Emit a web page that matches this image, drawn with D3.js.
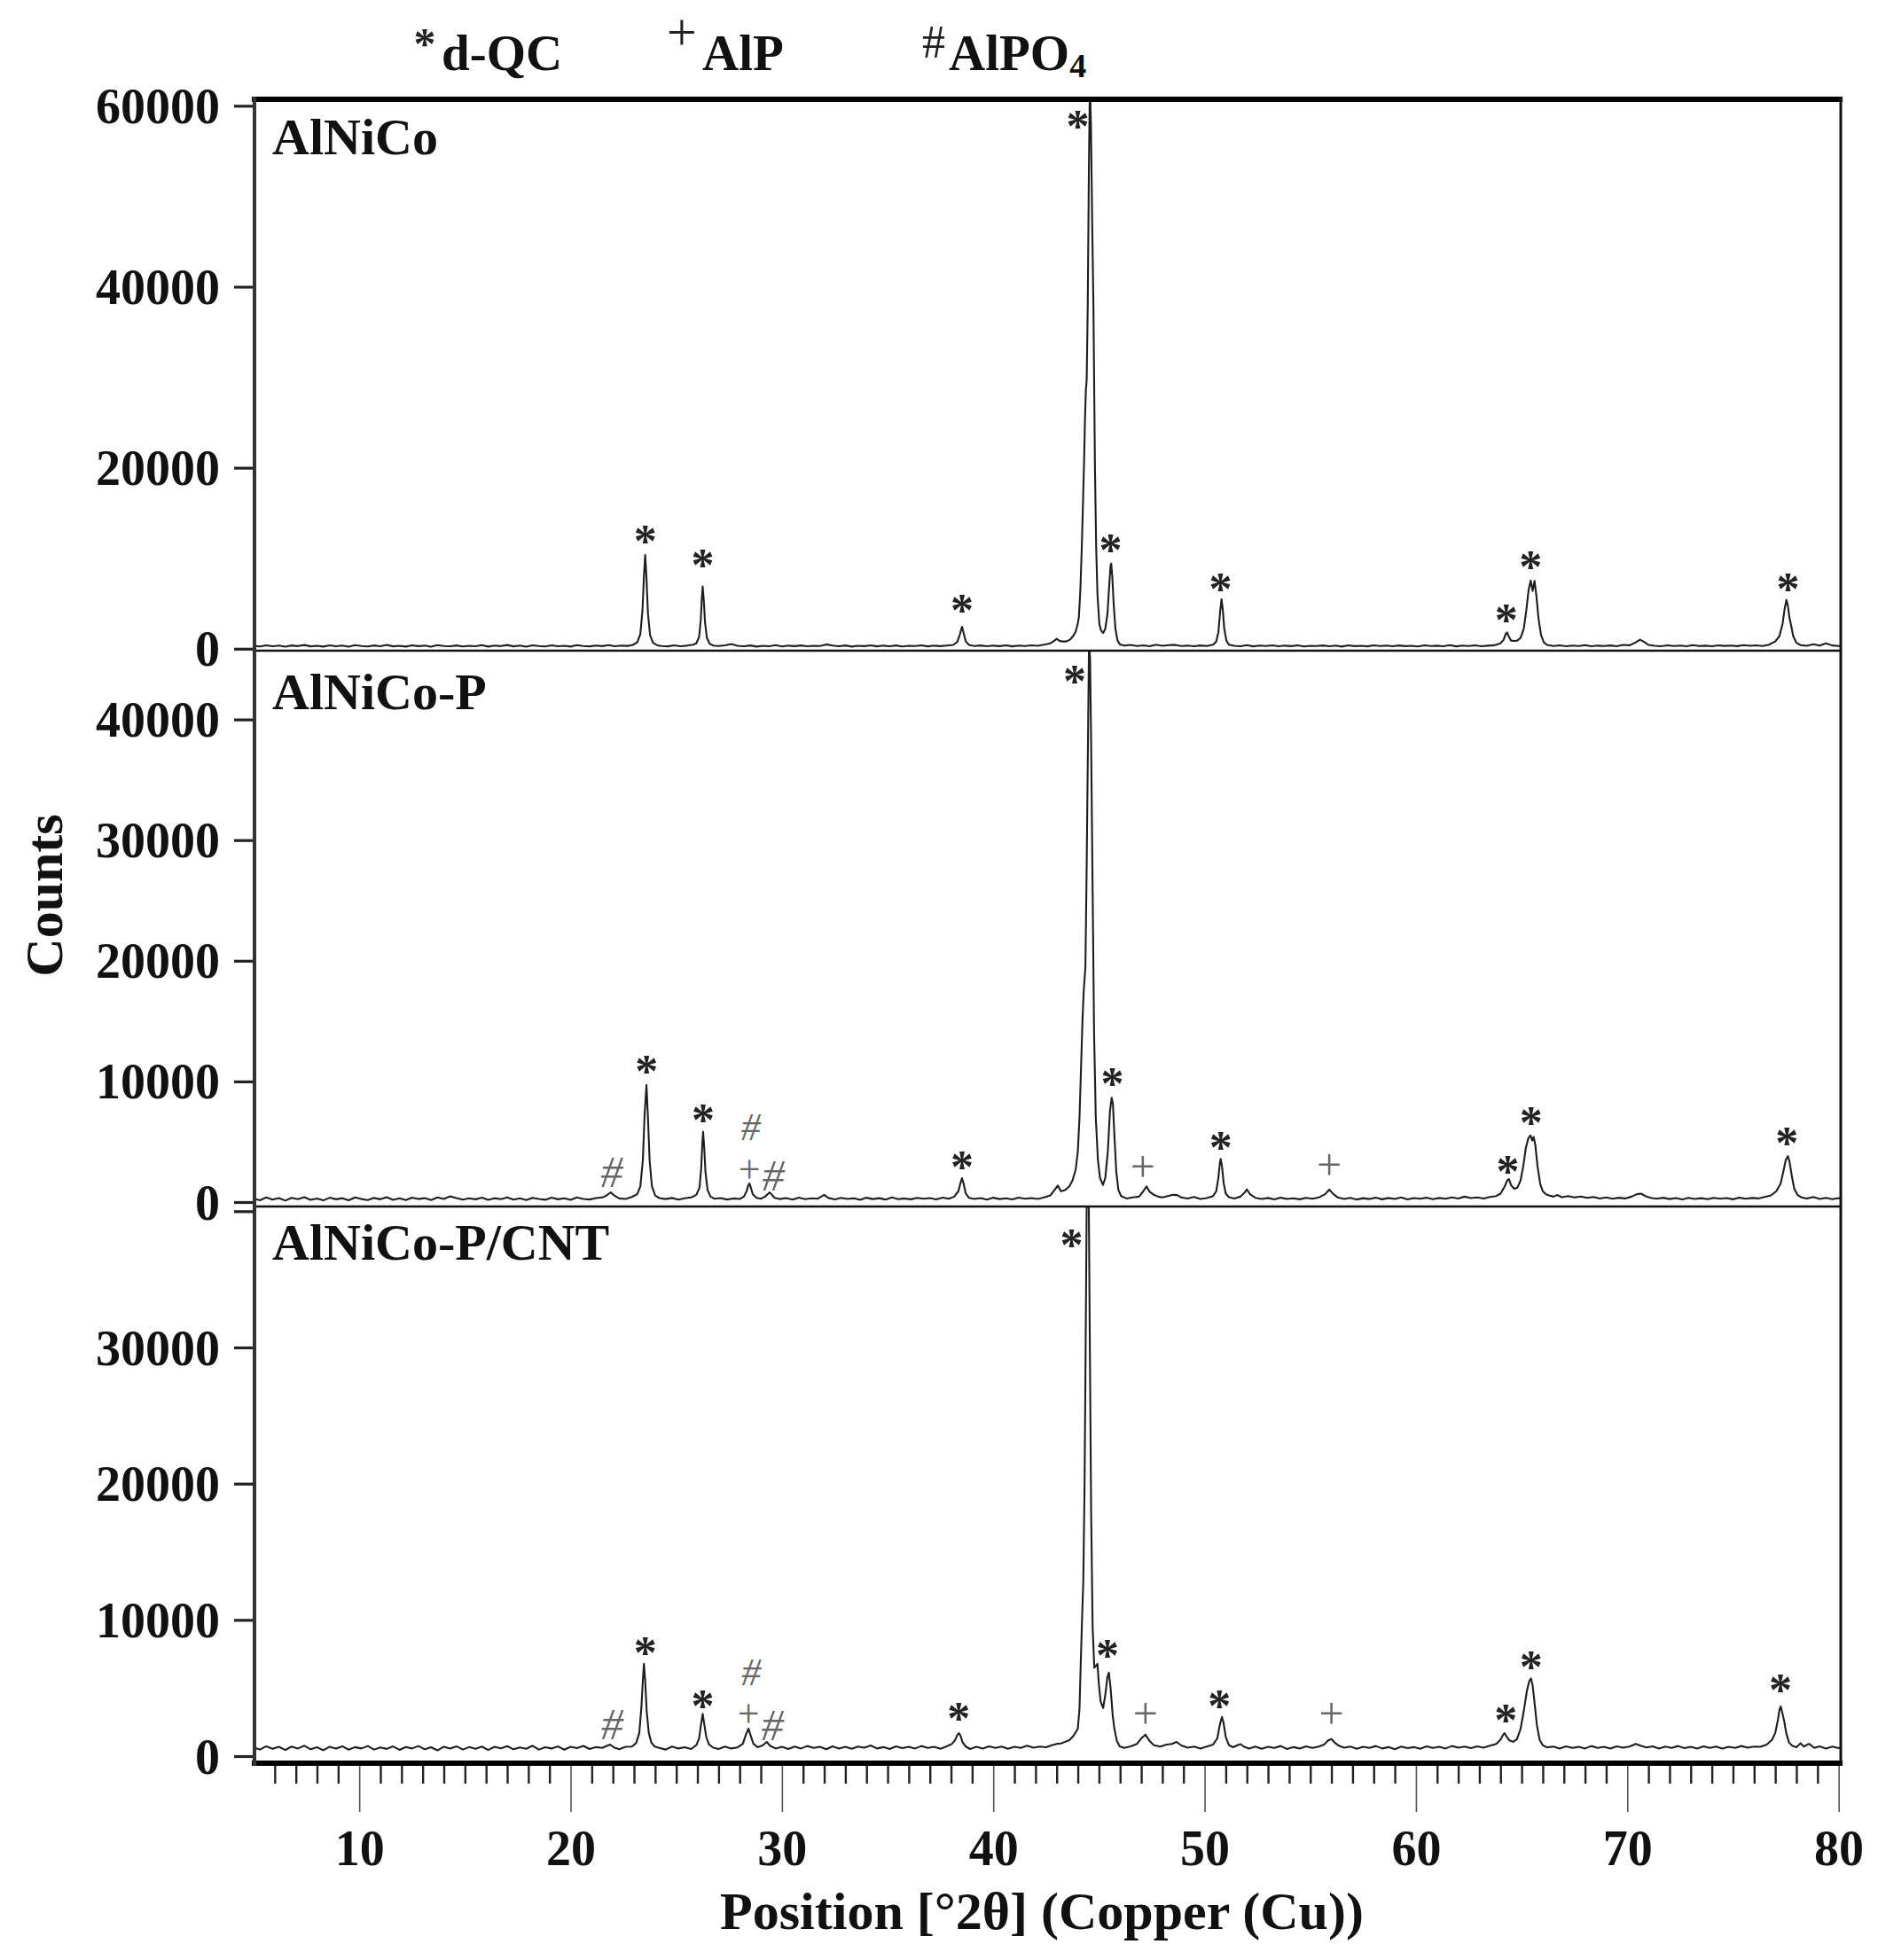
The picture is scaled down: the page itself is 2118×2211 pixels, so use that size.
<!DOCTYPE html>
<html><head><meta charset="utf-8">
<script src="https://cdn.jsdelivr.net/npm/d3@7"></script>
<style>body{margin:0;background:#fff}svg{display:block}</style>
</head><body>
<svg id="chart" width="2118" height="2211"></svg>
<script>
// ---------------- DATA ----------------
const panelNames = ["AlNiCo", "AlNiCo-P", "AlNiCo-P/CNT"];

// [2theta, counts]
const alnico = [
[5.0,320],[5.3,250],[5.6,380],[5.9,270],[6.2,340],[6.5,220],[6.8,360],[7.1,290],[7.4,410],[7.7,260],[8.0,330],[8.3,240],[8.6,370],[8.9,280],[9.2,350],[9.5,230],[9.8,390],[10.1,300],[10.4,250],[10.7,360],[11.0,280],[11.3,420],[11.6,260],[11.9,330],[12.2,240],[12.5,380],[12.8,290],[13.1,350],[13.4,220],[13.7,400],[14.0,300],[14.3,270],[14.6,360],[14.9,250],[15.2,330],[15.5,280],[15.8,390],[16.1,240],[16.4,350],[16.7,290],[17.0,410],[17.3,260],[17.6,340],[17.9,230],[18.2,370],[18.5,300],[18.8,250],[19.1,380],[19.4,280],[19.7,330],[20.0,240],[20.3,390],[20.6,300],[20.9,260],[21.2,350],[21.5,290],[21.8,400],[22.1,270],[22.4,340],[22.7,310],
[22.95,420],[23.15,700],[23.3,1600],[23.4,4200],[23.47,8000],[23.53,10370],[23.59,7800],[23.66,3900],[23.76,1500],[23.9,650],[24.1,380],
[24.3,300],[24.6,260],[24.9,370],[25.2,280],[25.5,340],[25.8,450],
[25.95,600],[26.08,1300],[26.16,3200],[26.21,5600],[26.25,6870],[26.3,5400],[26.36,2900],[26.45,1200],[26.58,550],[26.75,350],
[27.0,300],[27.3,380],[27.6,520],[27.9,320],[28.2,270],[28.5,360],[28.8,240],[29.1,330],[29.4,280],[29.7,390],[30.0,250],[30.3,340],[30.6,290],[30.9,360],[31.2,270],[31.5,330],[31.8,300],[32.1,480],[32.4,350],[32.7,270],[33.0,360],[33.3,240],[33.6,330],[33.9,290],[34.2,380],[34.5,260],[34.8,340],[35.1,280],[35.4,360],[35.7,250],[36.0,330],[36.3,300],[36.6,370],[36.9,260],[37.2,340],[37.5,290],[37.8,350],[38.1,420],
[38.3,750],[38.42,1600],[38.52,2430],[38.6,1700],[38.7,800],[38.85,420],
[39.1,300],[39.4,360],[39.7,270],[40.0,340],[40.3,290],[40.6,380],[40.9,260],[41.2,350],[41.5,300],[41.8,370],[42.1,330],[42.4,450],[42.7,600],[42.9,900],[43.0,1100],[43.15,850],[43.3,800],
[43.45,800],[43.63,1000],[43.78,1400],[43.9,1900],[44.0,2800],[44.05,3500],[44.12,6500],[44.19,11350],[44.25,16500],[44.3,21000],[44.34,25500],[44.38,28500],[44.42,29800],[44.47,38000],[44.52,52000],[44.57,62500],[44.62,58000],[44.68,47000],[44.74,37600],[44.81,20170],[44.87,11000],[44.93,6000],[45.02,2700],[45.1,2000],[45.2,1750],[45.3,2200],[45.4,3800],[45.48,6800],[45.55,9200],[45.58,9400],[45.63,8000],[45.7,4800],[45.78,2200],[45.88,900],[45.99,480],
[46.2,350],[46.5,420],[46.8,300],[47.1,380],[47.4,280],[47.7,450],[48.0,320],[48.3,390],[48.6,430],[48.9,300],[49.2,340],[49.5,270],[49.8,360],[50.1,300],[50.4,450],
[50.55,800],[50.65,1800],[50.73,4000],[50.8,5470],[50.86,4300],[50.93,2200],[51.03,900],[51.15,450],
[51.4,330],[51.7,280],[52.0,390],[52.3,260],[52.6,350],[52.9,300],[53.2,370],[53.5,270],[53.8,340],[54.1,290],[54.4,380],[54.7,250],[55.0,330],[55.3,300],[55.6,360],[55.9,280],[56.2,350],[56.5,240],[56.8,370],[57.1,290],[57.4,330],[57.7,260],[58.0,380],[58.3,300],[58.6,340],[58.9,270],[59.2,360],[59.5,290],[59.8,330],[60.1,250],[60.4,370],[60.7,300],[61.0,340],[61.3,280],[61.6,390],[61.9,260],[62.2,350],[62.5,300],[62.8,370],[63.1,280],[63.4,340],[63.7,380],[64.0,600],
[64.15,1000],[64.25,1650],[64.31,1810],[64.38,1400],[64.5,900],[64.65,860],[64.8,900],[64.95,1200],[65.1,2200],[65.22,4200],[65.33,6500],[65.43,7530],[65.52,6380],[65.61,7500],[65.7,5800],[65.8,3300],[65.92,1500],[66.05,700],[66.2,420],
[66.5,300],[66.8,370],[67.1,280],[67.4,350],[67.7,300],[68.0,390],[68.3,270],[68.6,340],[68.9,300],[69.2,360],[69.5,280],[69.8,420],[70.1,380],[70.4,700],[70.6,1000],[70.8,750],[71.0,420],[71.3,330],[71.6,280],[71.9,370],[72.2,300],[72.5,350],[72.8,270],[73.1,390],[73.4,300],[73.7,340],[74.0,280],[74.3,380],[74.6,310],[74.9,350],[75.2,290],[75.5,400],[75.8,330],[76.1,370],[76.4,300],[76.7,450],[77.0,800],
[77.2,1400],[77.35,2800],[77.45,4500],[77.53,5400],[77.6,4700],[77.68,3300],[77.75,2600],[77.85,1400],[78.0,650],[78.2,400],
[78.5,320],[78.8,500],[79.1,340],[79.4,600],[79.7,360],[80.0,300],[80.1,330]
];

const alnicoP = [
[5.0,300],[5.3,150],[5.6,380],[5.9,200],[6.2,330],[6.5,120],[6.8,350],[7.1,240],[7.4,410],[7.7,180],[8.0,300],[8.3,140],[8.6,360],[8.9,230],[9.2,320],[9.5,150],[9.8,390],[10.1,250],[10.4,170],[10.7,340],[11.0,230],[11.3,400],[11.6,190],[11.9,310],[12.2,160],[12.5,370],[12.8,250],[13.1,330],[13.4,170],[13.7,380],[14.0,260],[14.3,480],[14.6,330],[14.9,200],[15.2,310],[15.5,230],[15.8,370],[16.1,180],[16.4,320],[16.7,240],[17.0,390],[17.3,200],[17.6,310],[17.9,170],[18.2,350],[18.5,260],[18.8,190],[19.1,370],[19.4,230],[19.7,310],[20.0,180],[20.3,380],[20.6,260],[20.9,210],[21.2,330],[21.5,380],[21.7,550],[21.9,800],[22.1,500],[22.3,300],[22.6,260],[22.9,420],
[23.15,650],[23.3,1300],[23.42,3500],[23.5,7200],[23.59,9690],[23.66,7000],[23.74,3400],[23.85,1300],[24.0,550],[24.2,330],
[24.5,250],[24.8,340],[25.1,200],[25.4,310],[25.7,380],[25.95,600],
[26.1,1200],[26.18,2800],[26.23,4800],[26.27,5820],[26.32,4600],[26.38,2500],[26.48,1000],[26.62,450],[26.8,280],
[27.1,330],[27.4,210],[27.7,300],[28.0,260],[28.2,450],
[28.33,900],[28.4,1350],[28.46,1540],[28.53,1200],[28.62,650],[28.8,350],[29.0,280],[29.2,450],[29.35,700],[29.42,800],[29.5,650],[29.65,350],[29.9,250],
[30.2,330],[30.5,200],[30.8,360],[31.1,240],[31.4,310],[31.7,280],[32.0,590],[32.2,340],[32.5,220],[32.8,350],[33.1,260],[33.4,310],[33.7,190],[34.0,360],[34.3,250],[34.6,320],[34.9,210],[35.2,380],[35.5,240],[35.8,300],[36.1,230],[36.4,350],[36.7,270],[37.0,330],[37.3,220],[37.6,370],[37.9,280],[38.15,450],
[38.35,900],[38.45,1600],[38.52,1980],[38.6,1500],[38.7,700],[38.85,350],
[39.1,260],[39.4,330],[39.7,200],[40.0,360],[40.3,250],[40.6,310],[40.9,220],[41.2,370],[41.5,280],[41.8,330],[42.1,260],[42.4,380],[42.7,550],[42.9,1000],[43.05,1370],[43.2,900],[43.4,1000],
[43.6,1300],[43.75,1800],[43.9,2700],[44.0,4200],[44.08,7000],[44.15,11000],[44.22,15000],[44.28,17500],[44.32,18500],[44.36,19500],[44.42,28000],[44.48,38000],[44.53,46500],[44.58,45000],[44.63,38000],[44.7,26000],[44.77,14000],[44.85,7000],[44.95,3500],[45.05,2000],[45.19,1420],[45.3,2000],[45.42,4200],[45.52,7500],[45.6,8640],[45.66,8200],[45.74,5200],[45.82,2500],[45.92,1000],[46.05,500],
[46.3,300],[46.6,380],[46.9,450],[47.1,900],[47.25,1300],[47.4,850],[47.6,600],[47.8,450],[48.0,380],[48.3,520],[48.5,600],[48.7,580],[48.9,380],[49.2,300],[49.5,420],[49.8,260],[50.1,330],[50.4,500],
[50.55,900],[50.65,2000],[50.72,3200],[50.76,3570],[50.82,3000],[50.9,1600],[51.0,700],[51.15,400],
[51.4,300],[51.7,450],[51.9,800],[52.0,1050],[52.15,650],[52.4,350],[52.7,260],[53.0,340],[53.3,220],[53.6,360],[53.9,260],[54.2,310],[54.5,230],[54.8,350],[55.1,270],[55.4,380],[55.7,650],[55.9,1030],[56.1,650],[56.3,380],[56.6,260],[56.9,350],[57.2,210],[57.5,320],[57.8,250],[58.1,370],[58.4,230],[58.7,340],[59.0,260],[59.3,380],[59.6,220],[59.9,330],[60.2,280],[60.5,360],[60.8,240],[61.1,340],[61.4,270],[61.7,390],[62.0,300],[62.3,450],[62.6,330],[62.9,380],[63.2,300],[63.5,420],[63.8,500],[64.0,700],
[64.2,1300],[64.32,1800],[64.4,1900],[64.5,1400],[64.65,1100],[64.8,1200],[64.95,1800],[65.08,3000],[65.2,4500],[65.32,5300],[65.42,5530],[65.5,5100],[65.57,5400],[65.65,4700],[65.75,3000],[65.88,1500],[66.0,900],[66.15,650],[66.3,550],[66.5,450],[66.7,580],[66.9,400],[67.2,500],[67.5,380],[67.8,460],[68.1,350],[68.4,420],[68.7,300],[69.0,380],[69.3,280],[69.6,360],[69.9,300],[70.2,450],[70.45,650],[70.65,700],[70.85,500],[71.1,350],[71.4,280],[71.7,360],[72.0,250],[72.3,330],[72.6,220],[72.9,350],[73.2,260],[73.5,320],[73.8,240],[74.1,350],[74.4,270],[74.7,330],[75.0,230],[75.3,360],[75.6,280],[75.9,340],[76.2,300],[76.5,420],[76.8,550],[77.05,900],
[77.25,1500],[77.38,2500],[77.5,3500],[77.6,3810],[77.68,3300],[77.78,2200],[77.9,1100],[78.05,600],[78.25,380],
[78.5,300],[78.8,420],[79.1,260],[79.4,350],[79.7,240],[80.0,330],[80.1,280]
];

const alnicoPCNT = [
[5.0,650],[5.3,480],[5.6,720],[5.9,540],[6.2,680],[6.5,450],[6.8,700],[7.1,560],[7.4,760],[7.7,500],[8.0,650],[8.3,430],[8.6,690],[8.9,550],[9.2,720],[9.5,470],[9.8,660],[10.1,560],[10.4,740],[10.7,480],[11.0,640],[11.3,530],[11.6,710],[11.9,460],[12.2,670],[12.5,560],[12.8,740],[13.1,500],[13.4,650],[13.7,420],[14.0,690],[14.3,560],[14.6,720],[14.9,480],[15.2,660],[15.5,540],[15.8,700],[16.1,450],[16.4,680],[16.7,570],[17.0,730],[17.3,500],[17.6,640],[17.9,540],[18.2,760],[18.5,480],[18.8,650],[19.1,560],[19.4,710],[19.7,470],[20.0,680],[20.3,580],[20.6,750],[20.9,520],[21.2,660],[21.5,600],[21.7,750],[21.87,845],[22.05,640],[22.3,500],[22.6,680],[22.9,700],
[23.1,950],[23.25,1700],[23.35,3600],[23.42,5600],[23.47,6780],[23.53,5500],[23.6,3300],[23.7,1700],[23.82,1000],[23.98,700],[24.2,600],
[24.5,480],[24.8,700],[25.1,560],[25.4,650],[25.7,520],[25.95,800],
[26.08,1300],[26.17,2300],[26.25,3100],[26.32,2400],[26.42,1400],[26.55,850],[26.75,620],
[27.0,520],[27.3,700],[27.6,560],[27.9,640],[28.15,900],
[28.3,1600],[28.42,2015],[28.52,1500],[28.65,900],[28.85,650],[29.1,800],[29.28,1040],[29.45,750],[29.7,560],
[30.0,680],[30.3,520],[30.6,700],[30.9,560],[31.2,740],[31.5,600],[31.8,680],[32.1,500],[32.4,720],[32.7,560],[33.0,680],[33.3,540],[33.6,700],[33.9,620],[34.2,780],[34.5,560],[34.8,660],[35.1,520],[35.4,720],[35.7,580],[36.0,680],[36.3,560],[36.6,740],[36.9,600],[37.2,680],[37.5,540],[37.8,720],[38.05,900],
[38.2,1200],[38.3,1550],[38.37,1690],[38.45,1500],[38.55,1000],[38.7,700],[38.9,520],
[39.2,680],[39.5,560],[39.8,720],[40.1,600],[40.4,700],[40.7,540],[41.0,680],[41.3,600],[41.6,760],[41.9,620],[42.2,700],[42.5,650],[42.8,820],[43.0,900],[43.2,930],[43.4,1050],[43.6,1170],[43.8,1500],[44.0,2015],[44.08,3500],[44.13,6370],[44.2,10000],[44.26,12870],[44.32,20000],[44.37,30000],[44.42,40500],[44.47,42000],[44.52,40500],[44.57,30000],[44.63,18000],[44.7,9500],[44.78,6500],[44.85,6600],[44.93,6780],[45.0,5200],[45.08,4000],[45.2,3530],[45.3,4500],[45.4,5800],[45.47,6130],[45.55,5000],[45.65,3000],[45.73,2015],[45.85,1100],[45.98,720],
[46.2,600],[46.5,720],[46.8,900],[47.0,1300],[47.2,1580],[47.4,1100],[47.6,800],[47.9,700],[48.2,850],[48.45,900],[48.67,1040],[48.9,780],[49.2,620],[49.5,700],[49.8,560],[50.1,700],[50.4,850],
[50.6,1300],[50.72,2300],[50.82,2880],[50.9,2400],[51.0,1400],[51.15,800],[51.35,650],[51.55,800],[51.7,880],[51.85,700],[52.1,560],
[52.4,700],[52.7,540],[53.0,680],[53.3,600],[53.6,740],[53.9,520],[54.2,660],[54.5,560],[54.8,720],[55.1,600],[55.4,700],[55.65,850],[55.85,1150],[56.0,1255],[56.15,1000],[56.35,760],[56.6,620],
[56.9,700],[57.2,540],[57.5,680],[57.8,600],[58.1,740],[58.4,560],[58.7,660],[59.0,500],[59.3,700],[59.6,580],[59.9,660],[60.2,540],[60.5,720],[60.8,600],[61.1,680],[61.4,560],[61.7,740],[62.0,620],[62.3,700],[62.6,580],[62.9,720],[63.2,620],[63.5,760],[63.8,900],
[64.0,1200],[64.12,1550],[64.19,1690],[64.28,1450],[64.42,1150],[64.6,1050],[64.78,1250],[64.95,2000],[65.1,3300],[65.25,4800],[65.36,5500],[65.44,5700],[65.52,5200],[65.62,3800],[65.72,2300],[65.85,1200],[66.0,800],[66.2,640],
[66.5,700],[66.8,560],[67.1,720],[67.4,600],[67.7,680],[68.0,560],[68.3,740],[68.6,600],[68.9,680],[69.2,560],[69.5,720],[69.8,620],[70.1,700],[70.4,900],[70.6,780],[70.9,640],[71.2,720],[71.5,560],[71.8,700],[72.1,600],[72.4,740],[72.7,580],[73.0,680],[73.3,560],[73.6,720],[73.9,600],[74.2,700],[74.5,560],[74.8,680],[75.1,600],[75.4,740],[75.7,620],[76.0,700],[76.3,680],[76.6,850],[76.85,1200],
[77.0,1700],[77.12,2600],[77.2,3400],[77.26,3640],[77.33,3200],[77.42,2600],[77.52,1700],[77.65,1000],[77.8,760],
[78.0,650],[78.2,950],[78.35,700],[78.6,900],[78.85,600],[79.1,720],[79.4,560],[79.7,700],[80.0,580],[80.1,640]
];

// peak markers: [2theta, counts level of symbol centre, symbol]
const markersAlnico = [
[23.53,12520,"*"],[26.25,9880,"*"],[38.52,4880,"*"],[44.0,58400,"*"],[45.55,11590,"*"],
[50.75,7230,"*"],[64.27,3800,"*"],[65.43,9730,"*"],[77.6,7230,"*"]
];
const markersAlnicoP = [
[21.95,2500,"#"],[23.6,11330,"*"],[26.27,7270,"*"],[28.53,6240,"#"],[28.46,2420,"+"],[29.6,2200,"#"],
[38.52,3380,"*"],[43.85,43700,"*"],[45.63,10350,"*"],[47.08,2640,"+"],[50.76,5060,"*"],
[55.9,2750,"+"],[64.35,3080,"*"],[65.45,7120,"*"],[77.55,5360,"*"]
];
const markersAlnicoPCNT = [
[21.97,2340,"#"],[23.53,8060,"*"],[26.25,4160,"*"],[28.55,6175,"#"],[28.42,2860,"+"],[29.55,2275,"#"],
[38.37,3185,"*"],[43.7,38000,"*"],[45.4,7865,"*"],[47.2,2860,"+"],[50.7,4160,"*"],
[56.0,2800,"+"],[64.25,3055,"*"],[65.45,7020,"*"],[77.25,5330,"*"]
];

const yTicksAlnico = [0, 20000, 40000, 60000];
const yTicksAlnicoP = [0, 10000, 20000, 30000, 40000];
const yTicksAlnicoPCNT = [0, 10000, 20000, 30000, 40000];
const yTickLabelsHidden = [null, null, [40000]];
const xMajorTicks = [10, 20, 30, 40, 50, 60, 70, 80];
const xMinorTicks = d3.range(6, 81, 1);

const legendLabels = [["*", "d-QC", ""], ["+", "AlP", ""], ["#", "AlPO", "4"]];
const xTitle = "Position [°2θ] (Copper (Cu))";
const yTitle = "Counts";

// ---------------- LAYOUT ----------------
const FONT = "'Liberation Serif','Times New Roman',serif";
const svg = d3.select("#chart");
const L = 286, R = 2076;
const panels = [
  {top: 112, bottom: 734, anchor: [0, 60000], anchorPx: [731.8, 119.3], data: alnico, marks: markersAlnico, ticks: yTicksAlnico, labelY: 174},
  {top: 734, bottom: 1361, anchor: [0, 40000], anchorPx: [1356, 811.6], data: alnicoP, marks: markersAlnicoP, ticks: yTicksAlnicoP, labelY: 800},
  {top: 1361, bottom: 1988, anchor: [0, 30000], anchorPx: [1981, 1520], data: alnicoPCNT, marks: markersAlnicoPCNT, ticks: yTicksAlnicoPCNT, labelY: 1421}
];

const x = d3.scaleLinear().domain([5, 80.1]).range([L, R]);

svg.append("rect").attr("width", 2118).attr("height", 2211).attr("fill", "#fff");
const defs = svg.append("defs");

function styleMarker(sel, sym, yc, stacked) {
  const fs = stacked ? 44 : 50;
  if (sym === "*") {
    sel.attr("y", yc + 0.47 * 52).attr("font-size", 52).attr("font-weight", "bold").attr("fill", "#222");
  } else if (sym === "+") {
    sel.attr("y", yc + 0.25 * fs).attr("font-size", fs).attr("font-weight", "normal").attr("fill", "#666");
  } else {
    sel.attr("y", yc + 0.34 * fs).attr("font-size", fs).attr("font-style", "italic").attr("font-weight", "normal").attr("fill", "#666");
  }
}

panels.forEach((p, i) => {
  const y = d3.scaleLinear().domain(p.anchor).range(p.anchorPx);
  defs.append("clipPath").attr("id", "clip" + i)
    .append("rect").attr("x", L).attr("y", p.top).attr("width", R - L).attr("height", p.bottom - p.top);

  const line = d3.line().x(d => x(d[0])).y(d => y(d[1]));
  svg.append("path")
    .datum(p.data)
    .attr("clip-path", `url(#clip${i})`)
    .attr("d", line)
    .attr("fill", "none")
    .attr("stroke", "#1e1e1e")
    .attr("stroke-width", 2.1)
    .attr("stroke-linejoin", "round");

  // y axis
  const hidden = yTickLabelsHidden[i] || [];
  const ax = d3.axisLeft(y).tickValues(p.ticks).tickSize(22).tickPadding(16)
    .tickFormat(v => hidden.includes(v) ? "" : String(v));
  const g = svg.append("g").attr("transform", `translate(${L},0)`).call(ax);
  g.select(".domain").remove();
  g.selectAll(".tick line").attr("stroke", "#222").attr("stroke-width", 3.2);
  g.selectAll(".tick text").attr("font-family", FONT).attr("font-weight", "bold")
    .attr("font-size", 56).attr("fill", "#111").attr("dy", "0.34em");

  // panel name
  svg.append("text").attr("x", 307).attr("y", p.labelY)
    .attr("font-family", FONT).attr("font-weight", "bold").attr("font-size", 58)
    .attr("fill", "#111").text(panelNames[i]);

  // markers; phase symbols stacked at the same peak are drawn a little smaller
  p.marks.forEach(m => {
    const stacked = m[2] !== "*" && p.marks.some(n => n !== m && n[2] !== "*" && Math.abs(n[0] - m[0]) < 0.3);
    const t = svg.append("text").attr("x", x(m[0])).attr("text-anchor", "middle").attr("font-family", FONT).text(m[2]);
    styleMarker(t, m[2], y(m[1]), stacked);
  });
});

// frame lines
svg.append("line").attr("x1", L - 2).attr("x2", R + 2).attr("y1", 112).attr("y2", 112).attr("stroke", "#000").attr("stroke-width", 6);
svg.append("line").attr("x1", L - 2).attr("x2", R + 2).attr("y1", 1989).attr("y2", 1989).attr("stroke", "#000").attr("stroke-width", 6);
[734, 1361].forEach(yy => svg.append("line").attr("x1", L).attr("x2", R).attr("y1", yy).attr("y2", yy).attr("stroke", "#111").attr("stroke-width", 2.4));
svg.append("line").attr("x1", L + 1).attr("x2", L + 1).attr("y1", 109).attr("y2", 1992).attr("stroke", "#333").attr("stroke-width", 4);
svg.append("line").attr("x1", R).attr("x2", R).attr("y1", 109).attr("y2", 1992).attr("stroke", "#111").attr("stroke-width", 3);

// x axis: minor ticks
const gMinor = svg.append("g").attr("transform", "translate(0,1992)")
  .call(d3.axisBottom(x).tickValues(xMinorTicks.filter(v => !xMajorTicks.includes(v))).tickSize(20).tickFormat(""));
gMinor.select(".domain").remove();
gMinor.selectAll(".tick line").attr("stroke", "#222").attr("stroke-width", 2.4);

const gMajor = svg.append("g").attr("transform", "translate(0,1992)")
  .call(d3.axisBottom(x).tickValues(xMajorTicks).tickSize(52).tickPadding(20).tickFormat(d3.format("d")));
gMajor.select(".domain").remove();
gMajor.selectAll(".tick line").attr("stroke", "#555").attr("stroke-width", 1.6);
gMajor.selectAll(".tick text").attr("font-family", FONT).attr("font-weight", "bold")
  .attr("font-size", 56).attr("fill", "#111");

// axis titles
svg.append("text").attr("x", 1175).attr("y", 2176).attr("text-anchor", "middle")
  .attr("font-family", FONT).attr("font-weight", "bold").attr("font-size", 60).attr("fill", "#111").text(xTitle);
svg.append("text").attr("transform", "translate(70,1010) rotate(-90)").attr("text-anchor", "middle")
  .attr("font-family", FONT).attr("font-weight", "bold").attr("font-size", 60).attr("fill", "#111").text(yTitle);

// legend
const legendX = [498, 792, 1070];
const legendSymX = [479, 769, 1053];
legendLabels.forEach((lg, i) => {
  const sym = svg.append("text").attr("x", legendSymX[i]).attr("text-anchor", "middle").attr("font-family", FONT).text(lg[0]);
  if (lg[0] === "*") sym.attr("y", 42 + 0.47 * 50).attr("font-size", 50).attr("font-weight", "bold").attr("fill", "#222");
  else if (lg[0] === "+") sym.attr("y", 41 + 0.25 * 60).attr("font-size", 60).attr("fill", "#222");
  else sym.attr("y", 47 + 0.34 * 52).attr("font-size", 52).attr("fill", "#222");
  const t = svg.append("text").attr("x", legendX[i]).attr("y", 79)
    .attr("font-family", FONT).attr("font-weight", "bold").attr("font-size", 57).attr("fill", "#111").text(lg[1]);
  if (lg[2]) t.append("tspan").attr("font-size", 38).attr("dy", 8).text(lg[2]);
});
</script>
</body></html>
